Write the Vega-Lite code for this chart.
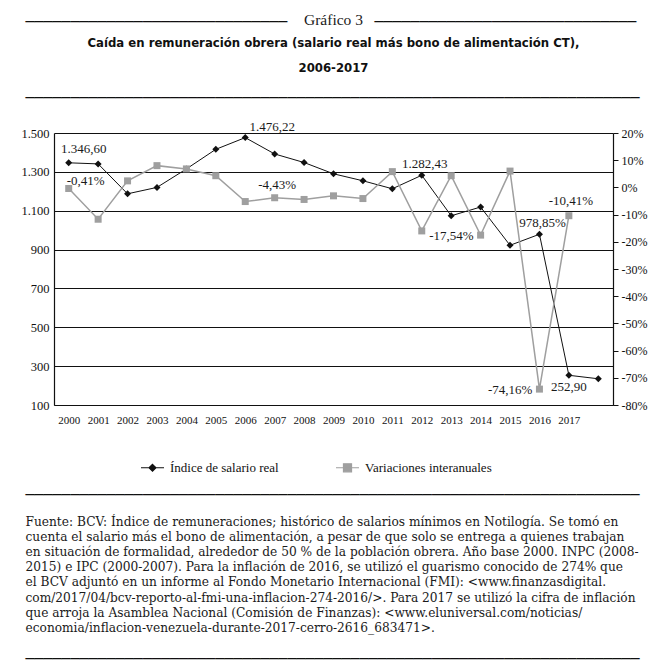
{
  "$schema": "https://vega.github.io/schema/vega-lite/v6.json",
  "width": 559,
  "height": 272,
  "autosize": "none",
  "padding": {"left": 54, "top": 133, "right": 56, "bottom": 263},
  "background": "white",
  "config": {"view": {"stroke": null}, "font": "Liberation Serif"},
  "title": {
    "text": "Gráfico 3",
    "subtitle": ["Caída en remuneración obrera (salario real más bono de alimentación CT),", "2006-2017"],
    "anchor": "middle",
    "frame": "group",
    "font": "Liberation Serif",
    "fontSize": 15.5,
    "fontWeight": "normal",
    "color": "#1a1a1a",
    "subtitleFont": "DejaVu Sans Condensed",
    "subtitleFontSize": 13,
    "subtitleFontWeight": "bold",
    "subtitleColor": "#111111",
    "subtitleLineHeight": 25,
    "subtitlePadding": 9,
    "offset": -61
  },
  "data": {
    "values": [
      {"year": "2000", "indice": 1346.6, "variacion": -0.41, "li": "1.346,60", "lv": "-0,41%"},
      {"year": "2001", "indice": 1341, "variacion": -11.7},
      {"year": "2002", "indice": 1187, "variacion": 2.4},
      {"year": "2003", "indice": 1220, "variacion": 8.0},
      {"year": "2004", "indice": 1315, "variacion": 6.8},
      {"year": "2005", "indice": 1416, "variacion": 4.3},
      {"year": "2006", "indice": 1476.22, "variacion": -5.2, "li": "1.476,22"},
      {"year": "2007", "indice": 1392, "variacion": -3.8},
      {"year": "2008", "indice": 1348, "variacion": -4.43, "lv": "-4,43%"},
      {"year": "2009", "indice": 1290, "variacion": -3.1},
      {"year": "2010", "indice": 1254, "variacion": -4.1},
      {"year": "2011", "indice": 1213, "variacion": 5.8},
      {"year": "2012", "indice": 1282.43, "variacion": -16.0, "li": "1.282,43"},
      {"year": "2013", "indice": 1074, "variacion": 4.3},
      {"year": "2014", "indice": 1119, "variacion": -17.54, "lv": "-17,54%"},
      {"year": "2015", "indice": 922, "variacion": 6.0},
      {"year": "2016", "indice": 978.85, "variacion": -74.16, "li": "978,85%", "lv": "-74,16%"},
      {"year": "2017", "indice": 252.9, "variacion": -10.41, "li": "252,90", "lv": "-10,41%"},
      {"year": "2018", "indice": 235, "variacion": null}
    ]
  },
  "layer": [
    {
      "encoding": {
        "x": {
          "field": "year",
          "type": "ordinal",
          "axis": {
            "labelExpr": "datum.value == '2018' ? '' : datum.value",
            "labelAngle": 0,
            "labelFont": "Liberation Serif",
            "labelFontSize": 11,
            "labelColor": "#111111",
            "labelPadding": 9,
            "ticks": false,
            "grid": false,
            "domain": true,
            "domainColor": "#111111",
            "domainWidth": 1.2,
            "title": [
              "Fuente: BCV: Índice de remuneraciones; histórico de salarios mínimos en Notilogía. Se tomó en",
              "cuenta el salario más el bono de alimentación, a pesar de que solo se entrega a quienes trabajan",
              "en situación de formalidad, alrededor de 50 % de la población obrera. Año base 2000. INPC (2008-",
              "2015) e IPC (2000-2007). Para la inflación de 2016, se utilizó el guarismo conocido de 274% que",
              "el BCV adjuntó en un informe al Fondo Monetario Internacional (FMI): <www.finanzasdigital.",
              "com/2017/04/bcv-reporto-al-fmi-una-inflacion-274-2016/>. Para 2017 se utilizó la cifra de inflación",
              "que arroja la Asamblea Nacional (Comisión de Finanzas): <www.eluniversal.com/noticias/",
              "economia/inflacion-venezuela-durante-2017-cerro-2616_683471>."
            ],
            "titleFont": "DejaVu Serif",
            "titleFontSize": 12.2,
            "titleFontWeight": "normal",
            "titleColor": "#1a1a1a",
            "titleAlign": "left",
            "titleBaseline": "top",
            "titleLineHeight": 15.2,
            "titleX": -29,
            "titleY": 110
          }
        },
        "y": {
          "field": "indice",
          "type": "quantitative",
          "scale": {"domain": [100, 1500], "nice": false, "zero": false},
          "axis": {
            "values": [100, 300, 500, 700, 900, 1100, 1300, 1500],
            "grid": true,
            "gridColor": "#111111",
            "gridWidth": 1.2,
            "domain": true,
            "domainColor": "#111111",
            "domainWidth": 1.2,
            "ticks": false,
            "labelPadding": 5,
            "labelFont": "Liberation Serif",
            "labelFontSize": 12.5,
            "labelColor": "#111111",
            "labelExpr": "replace(format(datum.value, ','), ',', '.')",
            "title": ["─────────────────────────────", "────────────────────────────────────────────────────────────────────"],
            "titleFont": "DejaVu Sans",
            "titleFontSize": 15,
            "titleFontWeight": "normal",
            "titleColor": "#111111",
            "titleAngle": 0,
            "titleAlign": "left",
            "titleBaseline": "top",
            "titleLineHeight": 76,
            "titleX": -29,
            "titleY": -119
          }
        }
      },
      "layer": [
        {
          "mark": {"type": "line", "strokeWidth": 1},
          "encoding": {
            "color": {
              "datum": "Índice de salario real",
              "type": "nominal",
              "scale": {"domain": ["Índice de salario real", "Variaciones interanuales"], "range": ["#111111", "#9f9f9f"]},
              "legend": {
                "orient": "none",
                "legendX": 86,
                "legendY": 322,
                "direction": "horizontal",
                "title": null,
                "labelFont": "Liberation Serif",
                "labelFontSize": 13,
                "labelColor": "#111111",
                "labelOffset": 5,
                "symbolSize": 529,
                "columnPadding": 54,
                "encode": {
                  "symbols": {
                    "update": {
                      "shape": {"signal": "datum.value === 'Índice de salario real' ? 'M-1,0H1M0,-0.3L0.3,0L0,0.3L-0.3,0Z' : 'M-1,0H1M-0.35,-0.35H0.35V0.35H-0.35Z'"},
                      "fill": {"signal": "datum.value === 'Índice de salario real' ? '#111111' : '#9f9f9f'"},
                      "stroke": {"signal": "datum.value === 'Índice de salario real' ? '#111111' : '#9f9f9f'"},
                      "strokeWidth": {"value": 1.2},
                      "opacity": {"value": 1}
                    }
                  }
                }
              }
            }
          }
        },
        {
          "mark": {"type": "point", "shape": "diamond", "filled": true, "size": 49, "opacity": 1},
          "encoding": {"color": {"datum": "Índice de salario real", "type": "nominal"}}
        },
        {
          "transform": [{"filter": {"field": "year", "oneOf": ["2000"]}}],
          "mark": {"type": "text", "dx": 15, "dy": -14, "font": "Liberation Serif", "fontSize": 13, "color": "#1a1a1a"},
          "encoding": {"text": {"field": "li"}}
        },
        {
          "transform": [{"filter": {"field": "year", "oneOf": ["2006"]}}],
          "mark": {"type": "text", "dx": 27, "dy": -11, "font": "Liberation Serif", "fontSize": 13, "color": "#1a1a1a"},
          "encoding": {"text": {"field": "li"}}
        },
        {
          "transform": [{"filter": {"field": "year", "oneOf": ["2012", "2016"]}}],
          "mark": {"type": "text", "dx": 3, "dy": -11, "font": "Liberation Serif", "fontSize": 13, "color": "#1a1a1a"},
          "encoding": {"text": {"field": "li"}}
        },
        {
          "transform": [{"filter": {"field": "year", "oneOf": ["2017"]}}],
          "mark": {"type": "text", "dx": 0, "dy": 12, "font": "Liberation Serif", "fontSize": 13, "color": "#1a1a1a"},
          "encoding": {"text": {"field": "li"}}
        }
      ]
    },
    {
      "encoding": {
        "x": {
          "field": "year",
          "type": "ordinal",
          "axis": {
            "orient": "top",
            "labels": false,
            "ticks": false,
            "domain": false,
            "grid": false,
            "title": "─────────────────────────────",
            "titleFont": "DejaVu Sans",
            "titleFontSize": 15,
            "titleFontWeight": "normal",
            "titleColor": "#111111",
            "titleAngle": 0,
            "titleAlign": "left",
            "titleBaseline": "top",
            "titleX": 320,
            "titleY": -119
          }
        },
        "y": {
          "field": "variacion",
          "type": "quantitative",
          "scale": {"domain": [-80, 20], "nice": false, "zero": false},
          "axis": {
            "orient": "right",
            "values": [-80, -70, -60, -50, -40, -30, -20, -10, 0, 10, 20],
            "grid": false,
            "domain": true,
            "domainColor": "#111111",
            "domainWidth": 1.2,
            "ticks": true,
            "tickSize": 5,
            "tickColor": "#111111",
            "labelPadding": 3,
            "labelFont": "Liberation Serif",
            "labelFontSize": 12,
            "labelColor": "#111111",
            "labelExpr": "datum.value + '%'",
            "title": ["────────────────────────────────────────────────────────────────────", "────────────────────────────────────────────────────────────────────"],
            "titleFont": "DejaVu Sans",
            "titleFontSize": 15,
            "titleFontWeight": "normal",
            "titleColor": "#111111",
            "titleAngle": 0,
            "titleAlign": "left",
            "titleBaseline": "top",
            "titleLineHeight": 164,
            "titleX": -588,
            "titleY": 354
          }
        }
      },
      "layer": [
        {
          "mark": {"type": "line", "strokeWidth": 1.5},
          "encoding": {"color": {"datum": "Variaciones interanuales", "type": "nominal"}}
        },
        {
          "mark": {"type": "point", "shape": "square", "filled": true, "size": 49, "opacity": 1},
          "encoding": {"color": {"datum": "Variaciones interanuales", "type": "nominal"}}
        },
        {
          "transform": [{"filter": {"field": "year", "oneOf": ["2000"]}}],
          "mark": {"type": "text", "dx": 17, "dy": -8, "font": "Liberation Serif", "fontSize": 13, "color": "#1a1a1a"},
          "encoding": {"text": {"field": "lv"}}
        },
        {
          "transform": [{"filter": {"field": "year", "oneOf": ["2008"]}}],
          "mark": {"type": "text", "dx": -27, "dy": -14, "font": "Liberation Serif", "fontSize": 13, "color": "#1a1a1a"},
          "encoding": {"text": {"field": "lv"}}
        },
        {
          "transform": [{"filter": {"field": "year", "oneOf": ["2017"]}}],
          "mark": {"type": "text", "dx": 2, "dy": -15, "font": "Liberation Serif", "fontSize": 13, "color": "#1a1a1a"},
          "encoding": {"text": {"field": "lv"}}
        },
        {
          "transform": [{"filter": {"field": "year", "oneOf": ["2014", "2016"]}}],
          "mark": {"type": "text", "align": "right", "dx": -7, "dy": 1, "font": "Liberation Serif", "fontSize": 13, "color": "#1a1a1a"},
          "encoding": {"text": {"field": "lv"}}
        }
      ]
    }
  ],
  "resolve": {"scale": {"y": "independent"}, "axis": {"x": "independent"}}
}
